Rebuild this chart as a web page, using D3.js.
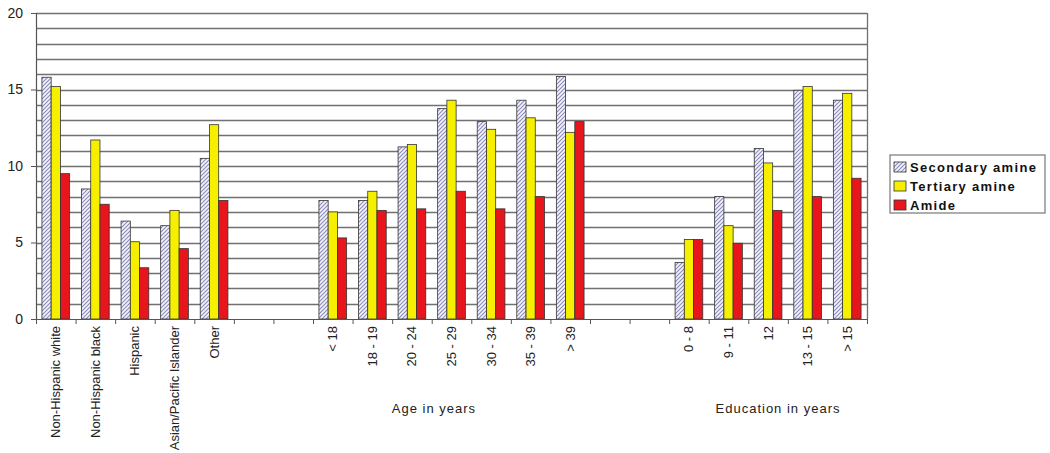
<!DOCTYPE html>
<html>
<head>
<meta charset="utf-8">
<script src="https://cdn.jsdelivr.net/npm/d3@7"></script>
<style>
  body { margin: 0; background: #fff; }
  svg { display: block; font-family: 'Liberation Sans', Arial, sans-serif; }
</style>
</head>
<body>
<div id="chart"></div>
<script>
// categories ('' = spacer slot between groups)
const categories = [
  'Non-Hispanic white', 'Non-Hispanic black', 'Hispanic', 'Asian/Pacific Islander', 'Other',
  '', ' ',
  '< 18', '18 - 19', '20 - 24', '25 - 29', '30 - 34', '35 - 39', '> 39',
  '  ', '   ',
  '0 - 8', '9 - 11', '12', '13 - 15', '> 15'
];
const seriesNames = ['Secondary amine', 'Tertiary amine', 'Amide'];
const secondary = [15.8, 8.5, 6.4, 6.1, 10.5, null, null, 7.75, 7.75, 11.25, 13.75, 12.9, 14.3, 15.85, null, null, 3.7, 8.0, 11.15, 14.95, 14.3];
const tertiary  = [15.2, 11.7, 5.05, 7.1, 12.7, null, null, 7.0, 8.35, 11.4, 14.3, 12.4, 13.15, 12.2, null, null, 5.2, 6.1, 10.2, 15.2, 14.75];
const amide     = [9.5, 7.5, 3.35, 4.6, 7.75, null, null, 5.3, 7.1, 7.2, 8.35, 7.2, 8.0, 12.9, null, null, 5.2, 4.95, 7.1, 8.0, 9.2];
const yTicks = [0, 5, 10, 15, 20];
const groupLabels = [
  { text: 'Age in years', x: 434 },
  { text: 'Education in years', x: 778 }
];

const W = 1050, H = 453;
const M = { top: 13, left: 36, right: 183, bottom: 134 };
const iw = W - M.left - M.right, ih = H - M.top - M.bottom;

const svg = d3.select('#chart').append('svg').attr('width', W).attr('height', H);

const defs = svg.append('defs');
const pat = defs.append('pattern')
  .attr('id', 'hatch').attr('patternUnits', 'userSpaceOnUse')
  .attr('width', 4).attr('height', 4);
pat.append('rect').attr('width', 4).attr('height', 4).attr('fill', '#f4f4fa');
pat.append('path').attr('d', 'M-1,1 l2,-2 M0,4 l4,-4 M3,5 l2,-2')
  .attr('stroke', '#8a8ab8').attr('stroke-width', 1.1);

const colors = ['url(#hatch)', '#f6f000', '#e8161c'];

const g = svg.append('g').attr('transform', `translate(${M.left},${M.top})`);

const x = d3.scaleBand().domain(categories).range([0, iw]).paddingInner(0.3).paddingOuter(0.15);
const x0 = d3.scaleBand().domain(categories).range([0, iw]);
const xs = d3.scaleBand().domain(seriesNames).range([0, x.bandwidth()]);
const y = d3.scaleLinear().domain([0, 20]).range([ih, 0]);

// gridlines every unit
g.append('g').selectAll('line').data(d3.range(1, 21)).join('line')
  .attr('x1', 0).attr('x2', iw)
  .attr('y1', d => Math.round(y(d)) + 0.5).attr('y2', d => Math.round(y(d)) + 0.5)
  .attr('stroke', '#707070').attr('stroke-width', 1.3);

// right border
g.append('line').attr('x1', iw + 0.5).attr('x2', iw + 0.5).attr('y1', 0).attr('y2', ih)
  .attr('stroke', '#707070').attr('stroke-width', 1.3);

// bars
const series = [secondary, tertiary, amide];
series.forEach((vals, si) => {
  g.append('g').selectAll('rect')
    .data(vals.map((v, i) => ({ v, c: categories[i] })).filter(d => d.v != null))
    .join('rect')
    .attr('x', d => x(d.c) + xs(seriesNames[si]))
    .attr('width', xs.bandwidth())
    .attr('y', d => y(d.v))
    .attr('height', d => ih - y(d.v))
    .attr('fill', colors[si])
    .attr('stroke', '#333')
    .attr('stroke-width', 0.8);
});

// y axis
const yAxis = g.append('g')
  .call(d3.axisLeft(y).tickValues(yTicks).tickSize(5).tickPadding(8));
yAxis.select('.domain').attr('stroke', '#555').attr('stroke-width', 1.2);
yAxis.selectAll('.tick line').attr('stroke', '#555');
yAxis.selectAll('text').style('font-size', '14px').attr('fill', '#222');

// x axis
const xAxis = g.append('g').attr('transform', `translate(0,${ih})`)
  .call(d3.axisBottom(x0).tickSize(0).tickSizeOuter(0));
xAxis.select('.domain').attr('stroke', '#555').attr('stroke-width', 1.2);
xAxis.selectAll('.tick text')
  .attr('transform', 'rotate(-90)')
  .attr('text-anchor', 'end')
  .attr('dy', '0.35em')
  .attr('x', -7).attr('y', 0)
  .style('font-size', '13px').attr('fill', '#222');
// category boundary ticks
g.append('g').selectAll('line').data(categories.concat(['__end'])).join('line')
  .attr('x1', (d, i) => i * x0.step() + 0.5).attr('x2', (d, i) => i * x0.step() + 0.5)
  .attr('y1', ih).attr('y2', ih + 5)
  .attr('stroke', '#555');

// group labels
svg.selectAll('.glabel').data(groupLabels).join('text')
  .attr('x', d => d.x).attr('y', 413)
  .attr('text-anchor', 'middle')
  .style('font-size', '13px').style('letter-spacing', '1px')
  .attr('fill', '#222').text(d => d.text);

// legend
const lg = svg.append('g').attr('transform', 'translate(890,155)');
lg.append('rect').attr('width', 155).attr('height', 58)
  .attr('fill', '#fff').attr('stroke', '#777').attr('stroke-width', 1.2);
seriesNames.forEach((s, i) => {
  const row = lg.append('g').attr('transform', `translate(4,${12 + i * 19})`);
  row.append('rect').attr('x', 0).attr('y', -5).attr('width', 12).attr('height', 10)
    .attr('fill', colors[i]).attr('stroke', '#333').attr('stroke-width', 0.8);
  row.append('text').attr('x', 16).attr('dy', '0.35em')
    .style('font-size', '13px').style('font-weight', 'bold').style('letter-spacing', '1.3px')
    .attr('fill', '#111').text(s);
});
</script>
</body>
</html>
